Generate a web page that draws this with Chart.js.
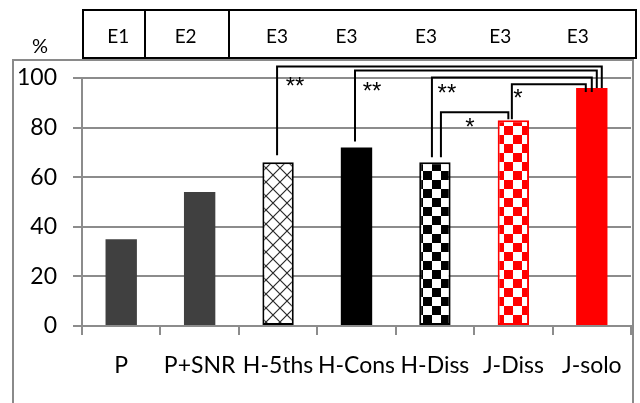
<!DOCTYPE html>
<html>
<head>
<meta charset="utf-8">
<script src="https://cdn.jsdelivr.net/npm/chart.js@4.4.0/dist/chart.umd.min.js"></script>
<style>
    html, body { margin: 0; padding: 0; background: #fff; }
    #wrap { position: relative; width: 640px; height: 403px; }
</style>
</head>
<body>
<div id="wrap"><canvas id="scoreChart" width="640" height="403"></canvas></div>
<script>
// --- Data ---
const categories = ['P', 'P+SNR', 'H-5ths', 'H-Cons', 'H-Diss', 'J-Diss', 'J-solo'];
const scores = [35, 54, 66, 72, 66, 83, 96];
const yTicks = [0, 20, 40, 60, 80, 100];
const experimentLabels = ['E1', 'E2', 'E3', 'E3', 'E3', 'E3', 'E3'];

// significance brackets: from bar, to bar, mark
const sigFrom = [2, 3, 4, 4, 5];
const sigTo = [6, 6, 6, 5, 6];
const sigMarks = ['**', '**', '**', '*', '*'];

// --- Layout / style for the brackets (level is in axis units, the rest in px) ---
const bracketLayout = [
    { level: 104.6, dx1: -1,   dx2: 10,  gap1: 7, gap2: 0,  tx: 18, ty: 16 },
    { level: 103.0, dx1: -1.5, dx2: 5,   gap1: 6, gap2: 0,  tx: 17, ty: 17 },
    { level: 100.2, dx1: -3,   dx2: 0,   gap1: 5, gap2: -4, tx: 15, ty: 12 },
    { level: 86.2,  dx1: 6,    dx2: -5,  gap1: 5, gap2: 1,  tx: 29, ty: 11 },
    { level: 97.5,  dx1: -1.5, dx2: -6,  gap1: 1, gap2: -4, tx: 6,  ty: 10 }
];
const headerOffsets = [-3, -14, -1, -10, -9, -13, -14];

const FONT = 'Lato, "Liberation Sans", sans-serif';
const GRID = '#8c8c8c';

// small helper to build canvas fill patterns
function makePattern(size, draw) {
    const c = document.createElement('canvas');
    c.width = size; c.height = size;
    const g = c.getContext('2d');
    draw(g, size);
    return g.createPattern(c, 'repeat');
}

function checker(color) {
    return makePattern(18, function(g, s) {
        g.fillStyle = '#fff';
        g.fillRect(0, 0, s, s);
        g.fillStyle = color;
        g.fillRect(0, 0, s / 2, s / 2);
        g.fillRect(s / 2, s / 2, s / 2, s / 2);
    });
}

const crossHatch = makePattern(14, function(g, s) {
    g.fillStyle = '#fff';
    g.fillRect(0, 0, s, s);
    g.strokeStyle = '#2a2a2a';
    g.lineWidth = 1.2;
    g.beginPath();
    g.moveTo(0, 0); g.lineTo(s, s);
    g.moveTo(s, 0); g.lineTo(0, s);
    g.stroke();
});

const barFills = ['#404040', '#404040', crossHatch, '#000000', checker('#000000'), checker('#ff0000'), '#ff0000'];
const barBorders = ['#404040', '#404040', '#000000', '#000000', '#000000', '#ff0000', '#ff0000'];
const barBorderWidths = [0, 0, 2, 0, 2, 2, 0];

// frames around the chart + the experiment header
const framePlugin = {
    id: 'frames',
    beforeDraw: function(chart) {
        const ctx = chart.ctx;
        const x = chart.scales.x;
        ctx.save();
        ctx.strokeStyle = '#8a8a8a';
        ctx.lineWidth = 2;
        ctx.strokeRect(13, 60, 620, 360);

        ctx.strokeStyle = '#000';
        ctx.lineWidth = 2;
        ctx.strokeRect(83, 10, 553, 48);
        ctx.beginPath();
        ctx.moveTo(145, 10); ctx.lineTo(145, 58);
        ctx.moveTo(229, 10); ctx.lineTo(229, 58);
        ctx.stroke();

        ctx.fillStyle = '#000';
        ctx.font = '19px ' + FONT;
        ctx.textAlign = 'center';
        ctx.textBaseline = 'middle';
        experimentLabels.forEach(function(lbl, i) {
            ctx.fillText(lbl, x.getPixelForValue(i) + headerOffsets[i], 37);
        });
        ctx.font = '20px ' + FONT;
        ctx.fillText('%', 40, 47);
        ctx.restore();
    }
};

// significance brackets drawn from the scales
const bracketPlugin = {
    id: 'brackets',
    afterDatasetsDraw: function(chart) {
        const ctx = chart.ctx;
        const x = chart.scales.x;
        const y = chart.scales.y;
        ctx.save();
        ctx.strokeStyle = '#000';
        ctx.lineWidth = 2;
        ctx.fillStyle = '#000';
        ctx.font = '24px "Liberation Sans", sans-serif';
        ctx.textAlign = 'center';
        ctx.textBaseline = 'middle';
        sigFrom.forEach(function(a, i) {
            const b = sigTo[i];
            const L = bracketLayout[i];
            const x1 = x.getPixelForValue(a) + L.dx1;
            const x2 = x.getPixelForValue(b) + L.dx2;
            const top = y.getPixelForValue(L.level);
            const y1 = y.getPixelForValue(scores[a]) - L.gap1;
            const y2 = y.getPixelForValue(scores[b]) - L.gap2;
            ctx.beginPath();
            ctx.moveTo(x1, y1);
            ctx.lineTo(x1, top);
            ctx.lineTo(x2, top);
            ctx.lineTo(x2, y2);
            ctx.stroke();
            ctx.fillText(sigMarks[i], x1 + L.tx, top + L.ty + 5);
        });
        ctx.restore();
    }
};

const ctx = document.getElementById('scoreChart').getContext('2d');
new Chart(ctx, {
    type: 'bar',
    data: {
        labels: categories,
        datasets: [{
            data: scores,
            backgroundColor: barFills,
            borderColor: barBorders,
            borderWidth: barBorderWidths,
            borderSkipped: false,
            barPercentage: 0.4,
            categoryPercentage: 1
        }]
    },
    options: {
        responsive: false,
        animation: false,
        devicePixelRatio: 1,
        layout: { padding: { top: 78, right: 9, left: 0, bottom: 0 } },
        plugins: {
            legend: { display: false },
            tooltip: { enabled: false }
        },
        scales: {
            x: {
                grid: { offset: true, drawOnChartArea: false, color: GRID, lineWidth: 2, tickLength: 9 },
                border: { color: GRID, width: 2 },
                ticks: { color: '#000', font: { family: FONT, size: 23 }, padding: 17, maxRotation: 0, autoSkip: false },
                afterFit: function(s) { s.height = 77; }
            },
            y: {
                min: 0,
                max: 100,
                afterBuildTicks: function(s) { s.ticks = yTicks.map(function(v) { return { value: v }; }); },
                grid: { color: GRID, lineWidth: 2, tickLength: 9 },
                border: { color: GRID, width: 2 },
                ticks: { color: '#000', font: { family: FONT, size: 23 }, padding: 16 },
                afterFit: function(s) { s.width = 82; }
            }
        }
    },
    plugins: [framePlugin, bracketPlugin]
});
</script>
</body>
</html>
